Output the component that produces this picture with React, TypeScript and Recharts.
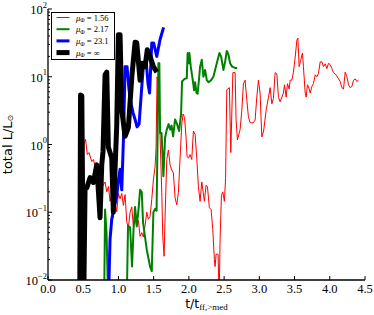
import React from 'react';
import { LineChart, Line, XAxis, YAxis, Legend, Label } from 'recharts';

// [t / t_ff,>med , total L / L_sun]
const red156: [number, number][] = [
  [0.462, 0.003], [0.483, 0.316], [0.511, 1.0], [0.533, 1.2], [0.558, 0.71], [0.582, 0.76], [0.621, 0.56], [0.646, 0.6], [0.668, 0.47], [0.692, 0.38],
  [0.724, 0.4], [0.753, 0.316], [0.781, 0.25], [0.81, 0.28], [0.834, 0.2], [0.859, 0.24], [0.881, 0.145], [0.902, 0.178], [0.923, 0.083], [0.952, 0.141],
  [0.976, 0.102], [0.999, 0.19], [1.023, 0.158], [1.047, 0.19], [1.07, 0.126], [1.094, 0.182], [1.118, 0.072], [1.141, 0.059], [1.165, 0.1], [1.189, 0.12],
  [1.212, 0.062], [1.236, 0.079], [1.26, 0.062], [1.283, 0.076], [1.307, 0.044], [1.331, 0.05], [1.354, 0.043], [1.378, 0.063], [1.402, 0.1], [1.425, 0.079],
  [1.449, 0.087], [1.473, 0.155], [1.496, 0.3], [1.52, 0.47], [1.534, 0.89], [1.548, 10], [1.563, 7.9], [1.577, 5.0], [1.591, 1.29], [1.615, 0.195],
  [1.629, 0.044], [1.648, 0.0224], [1.662, 0.087], [1.686, 0.6], [1.709, 0.83], [1.733, 0.5], [1.757, 0.42], [1.78, 0.38], [1.804, 0.162], [1.828, 0.129],
  [1.851, 0.195], [1.875, 0.63], [1.899, 2.0], [1.918, 2.82], [1.939, 2.5], [1.96, 1.26], [1.974, 0.66], [1.996, 0.63], [2.017, 0.71], [2.041, 0.6],
  [2.064, 1.58], [2.088, 1.41], [2.112, 0.63], [2.135, 0.24], [2.159, 0.145], [2.183, 0.28], [2.202, 0.2], [2.22, 0.145], [2.244, 0.25], [2.263, 0.24],
  [2.291, 0.117], [2.315, 0.11], [2.339, 0.056], [2.362, 0.02], [2.372, 0.0158], [2.386, 0.024], [2.415, 0.024], [2.429, 0.005], [2.443, 0.04], [2.462, 0.178],
  [2.481, 0.2], [2.504, 0.145], [2.521, 0.316], [2.538, 6.46], [2.575, 6.9], [2.595, 0.76], [2.624, 11.5], [2.656, 11.5], [2.67, 2.29], [2.689, 1.17],
  [2.727, 1.66], [2.751, 3.16], [2.774, 7.9], [2.798, 8.9], [2.822, 4.57], [2.845, 2.57], [2.869, 2.09], [2.916, 2.09], [2.94, 2.29], [2.964, 5.0],
  [2.987, 8.9], [3.011, 5.75], [3.035, 1.29], [3.061, 1.58], [3.097, 3.24], [3.129, 4.9], [3.153, 6.9], [3.178, 3.98], [3.2, 4.79], [3.224, 11.5],
  [3.249, 11], [3.271, 5.0], [3.295, 4.27], [3.32, 5.0], [3.342, 5.75], [3.357, 7.6], [3.381, 5.0], [3.399, 7.9], [3.423, 6.6], [3.438, 8.9],
  [3.462, 8.9], [3.484, 11.7], [3.509, 19.5], [3.533, 34.7], [3.547, 37.2], [3.565, 14.1], [3.589, 17.8], [3.612, 22.4], [3.626, 14.1], [3.651, 5.75],
  [3.665, 5.0], [3.683, 7.6], [3.697, 7.2], [3.722, 5.75], [3.746, 7.2], [3.768, 7.9], [3.793, 10.7], [3.817, 10], [3.839, 11.2], [3.864, 16.6],
  [3.888, 16.6], [3.911, 14.1], [3.935, 15.5], [3.959, 13.2], [3.982, 15.8], [4.006, 15.1], [4.03, 13.2], [4.053, 11.5], [4.077, 11], [4.101, 10.2],
  [4.124, 9.3], [4.148, 8.5], [4.172, 6.9], [4.195, 6.6], [4.219, 11.7], [4.243, 10], [4.266, 7.6], [4.29, 6.9], [4.314, 7.2], [4.337, 8.9],
  [4.361, 9.3], [4.385, 8.5], [4.408, 8.9],
];

const green217: [number, number][] = [
  [0.795, 0.003], [0.81, 0.11], [0.831, 0.05], [0.859, 0.003], [1.115, 0.003], [1.136, 0.063], [1.165, 0.06], [1.193, 0.0158], [1.214, 0.055], [1.236, 0.12],
  [1.26, 0.062], [1.286, 0.112], [1.307, 0.214], [1.331, 0.2], [1.349, 0.071], [1.402, 0.028], [1.449, 0.0158], [1.473, 0.0135], [1.496, 0.1], [1.52, 0.112],
  [1.541, 0.105], [1.555, 1.17], [1.567, 15.8], [1.581, 15.8], [1.591, 1.48], [1.612, 1.48], [1.638, 0.34], [1.662, 1.26], [1.686, 1.66], [1.712, 2.0],
  [1.733, 1.66], [1.754, 1.9], [1.776, 1.32], [1.804, 2.34], [1.832, 2.0], [1.861, 1.58], [1.889, 2.82], [1.903, 8.5], [1.939, 9.3], [1.97, 9.5],
  [1.982, 22.4], [1.999, 15.8], [2.007, 22.4], [2.027, 14.1], [2.055, 8.9], [2.074, 6.3], [2.088, 8.3], [2.109, 5.75], [2.124, 5.62], [2.145, 9.5],
  [2.159, 14.1], [2.183, 17.8], [2.206, 10], [2.23, 12.6], [2.254, 8.9], [2.28, 8.3], [2.315, 8.9], [2.348, 10], [2.396, 15.8], [2.433, 22.4],
  [2.457, 20], [2.49, 12.6], [2.514, 16.6], [2.538, 24], [2.561, 21.4], [2.585, 15.8], [2.614, 14.1], [2.656, 13.5], [2.685, 13.5],
];

const blue231: [number, number][] = [
  [0.852, 0.003], [0.881, 0.04], [0.905, 0.079], [0.94, 0.12], [0.976, 0.17], [1.0, 0.3], [1.023, 0.43], [1.047, 0.214], [1.072, 1.29], [1.094, 14.1],
  [1.122, 14.1], [1.151, 6.3], [1.179, 3.98], [1.207, 2.95], [1.236, 2.34], [1.264, 1.82], [1.293, 2.0], [1.331, 7.1], [1.357, 15.8], [1.392, 17.8],
  [1.42, 7.9], [1.442, 5.75], [1.473, 31.6], [1.499, 31.6], [1.544, 20], [1.591, 35.5], [1.641, 53.7],
];

const blackInf: [number, number][] = [
  [0.45, 0.003], [0.462, 5.4], [0.48, 5.2], [0.505, 0.003], [0.526, 0.229], [0.55, 0.229], [0.597, 0.324], [0.644, 0.275], [0.692, 0.5], [0.739, 0.083],
  [0.763, 0.5], [0.781, 0.79], [0.81, 10.7], [0.834, 11.7], [0.857, 0.91], [0.905, 0.63], [0.928, 0.1], [0.976, 1.95], [0.999, 41.7], [1.023, 41.7],
  [1.047, 3.24], [1.094, 1.32], [1.141, 1.78], [1.19, 10], [1.236, 32.4], [1.26, 31.6], [1.307, 8.9], [1.33, 15.8], [1.378, 14.1], [1.41, 25.1],
  [1.449, 20], [1.496, 14.1], [1.545, 11.7],
];

const seriesNames = ['1.56', '2.17', '23.1', '\u221e'];
const seriesColors = ['#ff0000', '#008000', '#0000ff', '#000000'];
const seriesWidths = [1, 2, 3, 5];
const seriesPoints = [red156, green217, blue231, blackInf];

const xTicks = [0, 0.5, 1, 1.5, 2, 2.5, 3, 3.5, 4, 4.5];
const xTickLabels = ['0.0', '0.5', '1.0', '1.5', '2.0', '2.5', '3.0', '3.5', '4.0', '4.5'];
const yMajorTicks = [0.01, 0.1, 1, 10, 100];
const yMajorExponents = ['\u22122', '\u22121', '0', '1', '2'];
const yMinorTicks = [
  0.02, 0.03, 0.04, 0.05, 0.06, 0.07, 0.08, 0.09,
  0.2, 0.3, 0.4, 0.5, 0.6, 0.7, 0.8, 0.9,
  2, 3, 4, 5, 6, 7, 8, 9,
  20, 30, 40, 50, 60, 70, 80, 90,
];
const yAllTicks = [...yMajorTicks, ...yMinorTicks];

const SERIF = "'Liberation Serif', 'DejaVu Serif', serif";
const SANS = "'DejaVu Sans', 'Liberation Sans', sans-serif";

const seriesData = seriesPoints.map((pts) => pts.map(([t, L]) => ({ t, L })));

const BottomTick = (props: any) => {
  const { x, y, payload } = props;
  const i = xTicks.indexOf(payload.value);
  return (
    <g>
      <line x1={x} y1={y} x2={x} y2={y - 4} stroke="#000" strokeWidth={1} />
      <text x={x} y={y} dy={12.5} textAnchor="middle" fontFamily={SERIF} fontSize={12.5} fill="#000">
        {xTickLabels[i]}
      </text>
    </g>
  );
};

const TopTick = (props: any) => {
  const { x, y } = props;
  return <line x1={x} y1={y} x2={x} y2={y + 4} stroke="#000" strokeWidth={1} />;
};

const LeftTick = (props: any) => {
  const { x, y, payload } = props;
  const mi = yMajorTicks.indexOf(payload.value);
  const len = mi >= 0 ? 4 : 2;
  return (
    <g>
      <line x1={x} y1={y} x2={x + len} y2={y} stroke="#000" strokeWidth={1} />
      {mi >= 0 && (
        <text x={x - 1} y={y} dy={5} textAnchor="end" fontFamily={SERIF} fontSize={12.5} fill="#000">
          <tspan>10</tspan>
          <tspan dy={-6.5} fontSize={8.5}>{yMajorExponents[mi]}</tspan>
        </text>
      )}
    </g>
  );
};

const RightTick = (props: any) => {
  const { x, y, payload } = props;
  const len = yMajorTicks.indexOf(payload.value) >= 0 ? 4 : 2;
  return <line x1={x} y1={y} x2={x - len} y2={y} stroke="#000" strokeWidth={1} />;
};

const YTitle = (props: any) => {
  const vb = props.viewBox || { x: 0, y: 9, width: 48, height: 271 };
  const x = vb.x + 12;
  const y = vb.y + vb.height / 2;
  return (
    <text x={x} y={y} transform={`rotate(-90, ${x}, ${y})`} textAnchor="middle" fontFamily={SANS} fontSize={13} fill="#000">
      <tspan>total L/L</tspan>
      <tspan fontSize={8} dy={1}>{'\u2299'}</tspan>
    </text>
  );
};

const XTitle = (props: any) => {
  const vb = props.viewBox || { x: 48, y: 280, width: 317, height: 35 };
  const x = vb.x + vb.width / 2;
  const y = vb.y + 27.5;
  return (
    <text x={x} y={y} textAnchor="middle" fill="#000">
      <tspan fontFamily={SANS} fontSize={12.5}>t/t</tspan>
      <tspan fontFamily={SERIF} fontSize={9} dy={2.5}>ff,&gt;med</tspan>
    </text>
  );
};

const LegendBox = () => (
  <svg width={64} height={48} style={{ display: 'block' }}>
    <rect x={0.5} y={0.5} width={63} height={47} fill="#fff" stroke="#000" strokeWidth={1} />
    {seriesNames.map((name, i) => {
      const cy = 5.5 + 11.7 * i;
      return (
        <g key={name}>
          <line x1={5.5} x2={18.5} y1={cy} y2={cy} stroke={seriesColors[i]} strokeWidth={seriesWidths[i]} />
          <text x={25} y={cy + 3} fontFamily={SERIF} fontSize={8.5} fill="#000">
            <tspan fontStyle="italic">{'\u03bc'}</tspan>
            <tspan fontSize={6} dy={1.8}>{'\u03a6'}</tspan>
            <tspan dy={-1.8}>{` = ${name}`}</tspan>
          </text>
        </g>
      );
    })}
  </svg>
);

export default function App() {
  return (
    <div style={{ width: 374, height: 315, background: '#fff', position: 'relative' }}>
      <style>{'body{margin:0;background:#fff;}'}</style>
      <LineChart width={374} height={315} margin={{ top: 9, right: 9, left: 0, bottom: 0 }}>
        <XAxis
          xAxisId="x"
          type="number"
          dataKey="t"
          domain={[0, 4.5]}
          ticks={xTicks}
          interval={0}
          allowDataOverflow
          height={35}
          tickSize={0}
          tickMargin={0}
          tickLine={false}
          axisLine={{ stroke: '#000', strokeWidth: 1.3 }}
          tick={<BottomTick />}
        >
          <Label content={<XTitle />} />
        </XAxis>
        <XAxis
          xAxisId="xt"
          orientation="top"
          type="number"
          dataKey="t"
          domain={[0, 4.5]}
          ticks={xTicks}
          interval={0}
          allowDataOverflow
          height={0}
          tickSize={0}
          tickMargin={0}
          tickLine={false}
          axisLine={{ stroke: '#000', strokeWidth: 1.3 }}
          tick={<TopTick />}
        />
        <YAxis
          yAxisId="y"
          scale="log"
          type="number"
          domain={[0.01, 100]}
          ticks={yAllTicks}
          interval={0}
          allowDataOverflow
          width={48}
          tickSize={0}
          tickMargin={0}
          tickLine={false}
          axisLine={{ stroke: '#000', strokeWidth: 1.3 }}
          tick={<LeftTick />}
        >
          <Label content={<YTitle />} />
        </YAxis>
        <YAxis
          yAxisId="yr"
          orientation="right"
          scale="log"
          type="number"
          domain={[0.01, 100]}
          ticks={yAllTicks}
          interval={0}
          allowDataOverflow
          width={0}
          tickSize={0}
          tickMargin={0}
          tickLine={false}
          axisLine={{ stroke: '#000', strokeWidth: 1.3 }}
          tick={<RightTick />}
        />
        {seriesData.map((d, i) => (
          <Line
            key={seriesNames[i]}
            xAxisId="x"
            yAxisId="y"
            data={d}
            dataKey="L"
            name={seriesNames[i]}
            type="linear"
            stroke={seriesColors[i]}
            strokeWidth={seriesWidths[i]}
            strokeLinejoin="round"
            dot={false}
            activeDot={false}
            isAnimationActive={false}
          />
        ))}
        <Legend
          layout="vertical"
          align="center"
          verticalAlign="middle"
          wrapperStyle={{ position: 'absolute', left: 51, top: 12, width: 64, height: 48 }}
          content={() => <LegendBox />}
        />
      </LineChart>
    </div>
  );
}
